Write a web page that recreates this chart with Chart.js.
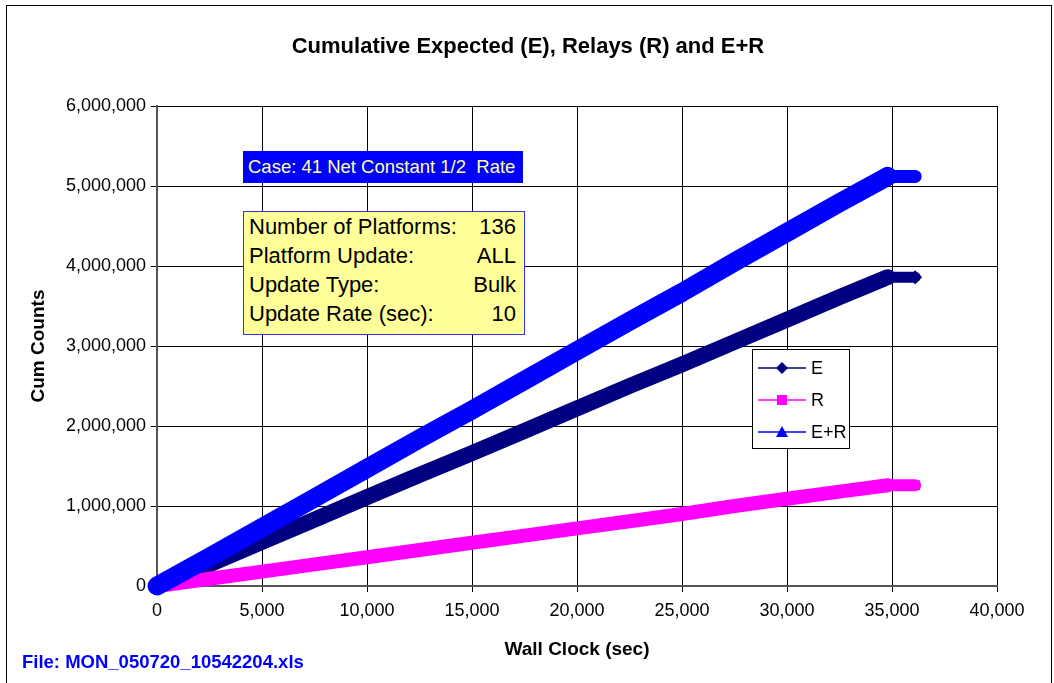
<!DOCTYPE html>
<html>
<head>
<meta charset="utf-8">
<script src="https://cdn.jsdelivr.net/npm/chart.js"></script>
<style>
  body { margin: 0; background: #fff; font-family: "Liberation Sans", Arial, sans-serif; }
  #wrap { position: relative; width: 1054px; height: 683px; overflow: hidden; }
  #chart { display: block; }
  #frame { position: absolute; left: 6px; top: 5px; width: 1044px; height: 700px; border: 1px solid #000; }
  #title { position: absolute; left: 0; top: 33px; width: 1056px; text-align: center; font-size: 22px;
           line-height: 26px; font-weight: bold; }
  .box { position: absolute; box-sizing: border-box; }
  #caseBox { left: 243px; top: 151px; width: 280px; height: 32px; background: #0000ff; color: #ffff99;
             font-size: 18.5px; line-height: 32px; padding-left: 5px; white-space: pre; }
  #infoBox { left: 243px; top: 211px; width: 282px; height: 124px; background: #ffff99; border: 1.5px solid #3333ff;
             font-size: 22px; line-height: 29px; padding: 0 8px 0 5px; }
  #infoBox div { display: flex; justify-content: space-between; }
  #legendBox { left: 752px; top: 349px; width: 98px; height: 100px; background: #fff; border: 1px solid #000;
               font-size: 18px; padding-top: 2px; }
  #legendBox div { height: 32px; display: flex; align-items: center; }
  #legendBox svg { margin-left: 5px; margin-right: 5px; }
  #fileName { position: absolute; left: 22px; top: 651px; font-size: 18.5px; font-weight: bold; color: #0000ff; }
</style>
</head>
<body>
<div id="wrap">
  <canvas id="chart" width="1054" height="683"></canvas>
  <div id="frame"></div>
  <div id="title"></div>
  <div id="caseBox" class="box">Case: 41 Net Constant 1/2  Rate</div>
  <div id="infoBox" class="box"></div>
  <div id="legendBox" class="box"></div>
  <div id="fileName">File: MON_050720_10542204.xls</div>
</div>
<script>
// wall clock (sec) and cumulative counts
const wallClock = [0, 2500, 5000, 7500, 10000, 12500, 15000, 17500, 20000, 22500, 25000, 27500, 30000, 32500, 34800, 36100];
const expected  = [0, 270000, 550000, 830000, 1110000, 1390000, 1660000, 1940000, 2220000, 2500000, 2770000, 3050000, 3330000, 3610000, 3860000, 3860000];
const relays    = [0, 90000, 180000, 270000, 360000, 450000, 540000, 630000, 720000, 810000, 900000, 1000000, 1090000, 1180000, 1260000, 1260000];
const combined  = [0, 360000, 730000, 1100000, 1470000, 1840000, 2200000, 2570000, 2940000, 3310000, 3670000, 4050000, 4420000, 4790000, 5120000, 5120000];

const chartTitle = 'Cumulative Expected (E), Relays (R) and E+R';
const xTickLabels = ['0', '5,000', '10,000', '15,000', '20,000', '25,000', '30,000', '35,000', '40,000'];
const yTickLabels = ['0', '1,000,000', '2,000,000', '3,000,000', '4,000,000', '5,000,000', '6,000,000'];

const infoRows = [
  ['Number of Platforms:', '136'],
  ['Platform Update:', 'ALL'],
  ['Update Type:', 'Bulk'],
  ['Update Rate (sec):', '10']
];

const series = [
  { label: 'E', values: expected, color: '#000080', style: 'rectRot', slope: 16, flat: 11, order: 3 },
  { label: 'R', values: relays, color: '#ff00ff', style: 'rect', slope: 14, flat: 12, order: 2 },
  { label: 'E+R', values: combined, color: '#0000ff', style: 'triangle', slope: 19, flat: 13, order: 1 }
];

const font = 'Liberation Sans';

const datasets = series.map(s => ({
  label: s.label,
  data: wallClock.map((t, i) => ({ x: t, y: s.values[i] })),
  borderColor: s.color,
  backgroundColor: s.color,
  borderWidth: s.slope,
  borderCapStyle: 'round',
  borderJoinStyle: 'round',
  pointStyle: s.style,
  pointRadius: ctx => ctx.dataIndex === wallClock.length - 1 ? 7 : 0,
  pointBorderWidth: 0,
  order: s.order,
  clip: false,
  segment: {
    borderWidth: ctx => ctx.p0.parsed.y === ctx.p1.parsed.y ? s.flat : s.slope
  }
}));

new Chart(document.getElementById('chart'), {
  type: 'line',
  data: { datasets: datasets },
  options: {
    responsive: false,
    animation: false,
    devicePixelRatio: 1,
    layout: { padding: { left: 0, right: 57, top: 106, bottom: 0 } },
    plugins: {
      legend: { display: false },
      tooltip: { enabled: false },
      title: { display: false }
    },
    scales: {
      x: {
        type: 'linear',
        min: 0, max: 40000,
        ticks: {
          stepSize: 5000,
          color: '#000',
          font: { family: font, size: 18 },
          padding: 8,
          maxRotation: 0,
          callback: (v, i) => xTickLabels[i]
        },
        grid: { color: '#000', lineWidth: 1, tickLength: 6, tickColor: '#000' },
        border: { color: '#555', width: 2 },
        title: {
          display: true,
          text: 'Wall Clock (sec)',
          color: '#000',
          font: { family: font, size: 19, weight: 'bold' },
          padding: { top: 0, bottom: 22 }
        },
        afterFit: scale => { scale.height = 97; }
      },
      y: {
        min: 0, max: 6000000,
        ticks: {
          stepSize: 1000000,
          color: '#000',
          font: { family: font, size: 18 },
          padding: 5,
          callback: (v, i) => yTickLabels[i]
        },
        grid: { color: '#000', lineWidth: 1, tickLength: 6, tickColor: '#000' },
        border: { color: '#555', width: 2 },
        title: {
          display: true,
          text: 'Cum Counts',
          color: '#000',
          font: { family: font, size: 19, weight: 'bold' },
          padding: { top: 27, bottom: 0 }
        },
        afterFit: scale => { scale.width = 157; }
      }
    }
  }
});

document.getElementById('title').textContent = chartTitle;

// text boxes
const info = document.getElementById('infoBox');
infoRows.forEach(r => {
  const row = document.createElement('div');
  row.innerHTML = '<span>' + r[0] + '</span><span>' + r[1] + '</span>';
  info.appendChild(row);
});

// legend drawn like the spreadsheet one
const markers = {
  rectRot: c => '<polygon points="24,1 30,7 24,13 18,7" fill="' + c + '"/>',
  rect: c => '<rect x="19" y="2" width="10" height="10" fill="' + c + '"/>',
  triangle: c => '<polygon points="24,1 30,12 18,12" fill="' + c + '"/>'
};
const legend = document.getElementById('legendBox');
series.forEach(s => {
  const row = document.createElement('div');
  row.innerHTML = '<svg width="48" height="14"><line x1="0" y1="7" x2="48" y2="7" stroke="' + s.color +
    '" stroke-width="1.5"/>' + markers[s.style](s.color) + '</svg><span>' + s.label + '</span>';
  legend.appendChild(row);
});
</script>
</body>
</html>
